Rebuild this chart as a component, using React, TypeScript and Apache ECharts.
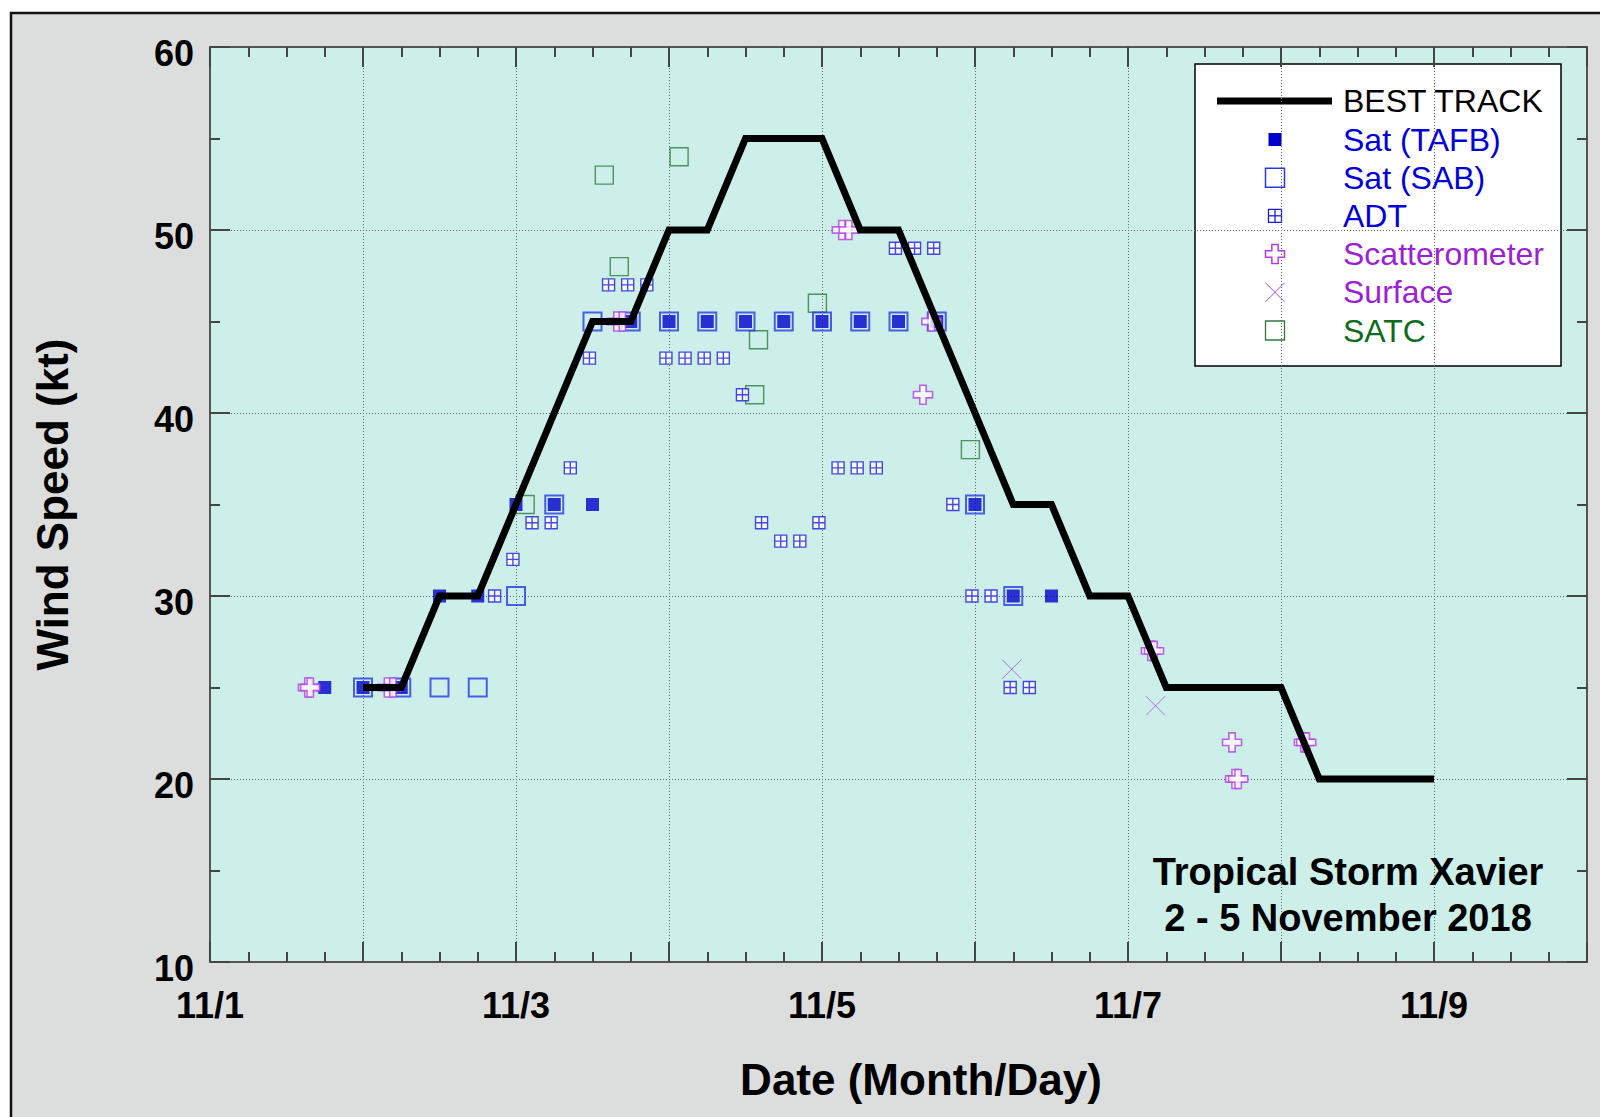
import React, { useEffect, useRef } from "react";
import * as echarts from "echarts";

// ---------------- data ----------------
const seriesNames = ["BEST TRACK", "Sat (TAFB)", "Sat (SAB)", "ADT", "Scatterometer", "Surface", "SATC"];
// x tick labels at each day (day offset from 11/1 00Z)
const xTickLabels = ["11/1", "", "11/3", "", "11/5", "", "11/7", "", "11/9", ""];

// times are day offsets from 1 Nov 00 UTC, winds in kt
const bestTrackDay = [1.0, 1.25, 1.5, 1.75, 2.0, 2.25, 2.5, 2.75, 3.0, 3.25, 3.5, 3.75, 4.0, 4.25, 4.5, 4.75, 5.0, 5.25, 5.5, 5.75, 6.0, 6.25, 6.5, 6.75, 7.0, 7.25, 7.5, 7.75, 8.0];
const bestTrackKt = [25, 25, 30, 30, 35, 40, 45, 45, 50, 50, 55, 55, 55, 50, 50, 45, 40, 35, 35, 30, 30, 25, 25, 25, 25, 20, 20, 20, 20];

const tafbDay = [0.75, 1.0, 1.25, 1.5, 1.75, 2.0, 2.25, 2.5, 2.75, 3.0, 3.25, 3.5, 3.75, 4.0, 4.25, 4.5, 4.75, 5.0, 5.25, 5.5];
const tafbKt = [25, 25, 25, 30, 30, 35, 35, 35, 45, 45, 45, 45, 45, 45, 45, 45, 45, 35, 30, 30];

const sabDay = [1.0, 1.25, 1.5, 1.75, 2.0, 2.25, 2.5, 2.75, 3.0, 3.25, 3.5, 3.75, 4.0, 4.25, 4.5, 4.75, 5.0, 5.25];
const sabKt = [25, 25, 25, 25, 30, 35, 45, 45, 45, 45, 45, 45, 45, 45, 45, 45, 35, 30];

const adtDay = [1.86, 1.98, 2.105, 2.23, 2.355, 2.48, 2.605, 2.73, 2.855, 2.98, 3.105, 3.23, 3.355, 3.48, 3.605, 3.73, 3.855, 3.98, 4.105, 4.23, 4.355, 4.48, 4.605, 4.73, 4.855, 4.98, 5.105, 5.23, 5.355];
const adtKt = [30, 32, 34, 34, 37, 43, 47, 47, 47, 43, 43, 43, 43, 41, 34, 33, 33, 34, 37, 37, 37, 49, 49, 49, 35, 30, 30, 25, 25];

const scatDay = [0.64, 0.655, 1.16, 1.195, 2.66, 2.695, 4.13, 4.175, 4.66, 4.715, 6.15, 6.17, 6.68, 6.7, 6.72, 7.15, 7.165];
const scatKt = [25, 25, 25, 25, 45, 45, 50, 50, 41, 45, 27, 27, 22, 20, 20, 22, 22];

const surfDay = [5.24, 6.18];
const surfKt = [26, 24];

const satcDay = [2.06, 2.577, 2.675, 3.066, 3.56, 3.585, 3.97, 4.97];
const satcKt = [35, 53, 48, 54, 41, 44, 46, 38];

const titleLines = ["Tropical Storm Xavier", "2 - 5 November 2018"];

// ---------------- styles ----------------
const FONT = '"Liberation Sans", Arial, Helvetica, sans-serif';
const C_TAFB = "#0000CC";
const C_SAB = "#2838E6";
const C_ADT = "#1C1CDC";
const C_SCAT = "#B43CE6";
const C_SURF = "#A848E0";
const C_SATC = "#2E7A3C";
const C_BLUE_T = "#0000DD";
const C_PURP_T = "#9C1FD6";
const C_GREEN_T = "#0F6B1E";
const legendTextColors = ["#000000", C_BLUE_T, C_BLUE_T, C_BLUE_T, C_PURP_T, C_PURP_T, C_GREEN_T];

const ADT_PATH = "path://M0,0H10V10H0ZM5,0V10M0,5H10";
const CROSS_PATH = "path://M10,0H20V10H30V20H20V30H10V20H0V10H10Z";
const X_PATH = "path://M0,0L10,10M10,0L0,10";

const zip = (xs: number[], ys: number[]) => xs.map((x, i) => [x, ys[i]]);

function crossPoints(cx: number, cy: number, s: number) {
  const a = s / 6;
  const h = s / 2;
  return [
    [cx - a, cy - h], [cx + a, cy - h], [cx + a, cy - a], [cx + h, cy - a],
    [cx + h, cy + a], [cx + a, cy + a], [cx + a, cy + h], [cx - a, cy + h],
    [cx - a, cy + a], [cx - h, cy + a], [cx - h, cy - a], [cx - a, cy - a],
  ];
}

function buildLegend() {
  const rows = [101, 139.5, 177.7, 215.8, 254, 292.3, 330.5];
  const cx = 1275;
  const children: any[] = [
    { type: "rect", shape: { x: 1195, y: 64, width: 366, height: 302 }, style: { fill: "#ffffff", stroke: "#000", lineWidth: 1.5 } },
    { type: "line", shape: { x1: 1217, y1: rows[0], x2: 1332, y2: rows[0] }, style: { stroke: "#000", lineWidth: 7 } },
    { type: "rect", shape: { x: cx - 6.5, y: rows[1] - 6.5, width: 13, height: 13 }, style: { fill: C_TAFB } },
    { type: "rect", shape: { x: cx - 9.5, y: rows[2] - 9.5, width: 19, height: 19 }, style: { fill: "none", stroke: C_SAB, lineWidth: 1.5 } },
    { type: "rect", shape: { x: cx - 6.5, y: rows[3] - 6.5, width: 13, height: 13 }, style: { fill: "#fff", stroke: C_ADT, lineWidth: 1.3 } },
    { type: "line", shape: { x1: cx, y1: rows[3] - 6.5, x2: cx, y2: rows[3] + 6.5 }, style: { stroke: C_ADT, lineWidth: 1.3 } },
    { type: "line", shape: { x1: cx - 6.5, y1: rows[3], x2: cx + 6.5, y2: rows[3] }, style: { stroke: C_ADT, lineWidth: 1.3 } },
    { type: "polygon", shape: { points: crossPoints(cx, rows[4], 19) }, style: { fill: "#fff", stroke: C_SCAT, lineWidth: 1.5 } },
    { type: "line", shape: { x1: cx - 9.5, y1: rows[5] - 9.5, x2: cx + 9.5, y2: rows[5] + 9.5 }, style: { stroke: C_SURF, lineWidth: 1 } },
    { type: "line", shape: { x1: cx + 9.5, y1: rows[5] - 9.5, x2: cx - 9.5, y2: rows[5] + 9.5 }, style: { stroke: C_SURF, lineWidth: 1 } },
    { type: "rect", shape: { x: cx - 9.5, y: rows[6] - 9.5, width: 19, height: 19 }, style: { fill: "none", stroke: C_SATC, lineWidth: 1.3 } },
  ];
  seriesNames.forEach((name, i) => {
    children.push({
      type: "text",
      x: 1343,
      y: rows[i],
      style: {
        text: name,
        fill: legendTextColors[i],
        fontSize: 32,
        fontFamily: FONT,
        verticalAlign: "middle",
        align: "left",
      },
    });
  });
  return { type: "group", z: 10, children };
}

export default function App() {
  const ref = useRef<HTMLDivElement>(null);

  useEffect(() => {
    document.body.style.margin = "0";
    if (!ref.current) return;
    const chart = echarts.init(ref.current, undefined, { renderer: "svg" });

    const axisLineStyle = { color: "#555", width: 2 };
    const tickStyle = { color: "#444", width: 2 };

    const scatterBase = { type: "scatter" as const, xAxisIndex: 0, yAxisIndex: 0, silent: true };

    const option: any = {
      animation: false,
      backgroundColor: "transparent",
      grid: {
        left: 210,
        top: 47,
        right: 13,
        bottom: 155,
        show: true,
        backgroundColor: "#CCEFEA",
        borderWidth: 0,
      },
      xAxis: [
        {
          type: "value",
          min: 0,
          max: 9,
          interval: 1,
          position: "bottom",
          axisLine: { show: true, onZero: false, lineStyle: axisLineStyle },
          axisTick: { show: true, inside: true, length: 20, lineStyle: tickStyle },
          minorTick: { show: true, splitNumber: 4, length: 10, lineStyle: tickStyle },
          splitLine: { show: true, lineStyle: { color: "#666", width: 1, type: [1, 2] } },
          axisLabel: {
            formatter: (v: number) => xTickLabels[Math.round(v)] ?? "",
            fontSize: 36,
            fontWeight: "bold",
            fontFamily: FONT,
            color: "#000",
            margin: 25,
            lineHeight: 36,
          },
          name: "Date (Month/Day)",
          nameLocation: "middle",
          nameGap: 95,
          nameTextStyle: { fontSize: 44, fontWeight: "bold", fontFamily: FONT, color: "#000", padding: [0, 0, 0, 45] },
        },
        {
          type: "value",
          min: 0,
          max: 9,
          interval: 1,
          position: "top",
          axisLine: { show: true, onZero: false, lineStyle: axisLineStyle },
          axisTick: { show: true, inside: true, length: 20, lineStyle: tickStyle },
          minorTick: { show: true, splitNumber: 4, length: 10, lineStyle: tickStyle },
          splitLine: { show: false },
          axisLabel: { show: false },
        },
      ],
      yAxis: [
        {
          type: "value",
          min: 10,
          max: 60,
          interval: 10,
          position: "left",
          axisLine: { show: true, onZero: false, lineStyle: axisLineStyle },
          axisTick: { show: true, inside: true, length: 20, lineStyle: tickStyle },
          minorTick: { show: true, splitNumber: 2, length: 10, lineStyle: tickStyle },
          splitLine: { show: true, lineStyle: { color: "#666", width: 1, type: [1, 2] } },
          axisLabel: {
            fontSize: 36,
            fontWeight: "bold",
            fontFamily: FONT,
            color: "#000",
            margin: 16,
            verticalAlign: "top",
            lineHeight: 13,
          },
          name: "Wind Speed (kt)",
          nameLocation: "middle",
          nameGap: 136,
          nameTextStyle: { fontSize: 44, fontWeight: "bold", fontFamily: FONT, color: "#000" },
        },
        {
          type: "value",
          min: 10,
          max: 60,
          interval: 10,
          position: "right",
          axisLine: { show: true, onZero: false, lineStyle: axisLineStyle },
          axisTick: { show: true, inside: true, length: 20, lineStyle: tickStyle },
          minorTick: { show: true, splitNumber: 2, length: 10, lineStyle: tickStyle },
          splitLine: { show: false },
          axisLabel: { show: false },
        },
      ],
      series: [
        {
          name: seriesNames[0],
          type: "line",
          xAxisIndex: 0,
          yAxisIndex: 0,
          data: zip(bestTrackDay, bestTrackKt),
          showSymbol: false,
          symbol: "none",
          lineStyle: { color: "#000", width: 7, join: "miter" },
          silent: true,
        },
        {
          ...scatterBase,
          name: seriesNames[6],
          data: zip(satcDay, satcKt),
          symbol: "rect",
          symbolSize: 18,
          itemStyle: { color: "rgba(0,0,0,0)", borderColor: C_SATC, borderWidth: 1.4 },
        },
        {
          ...scatterBase,
          name: seriesNames[2],
          data: zip(sabDay, sabKt),
          symbol: "rect",
          symbolSize: 18,
          itemStyle: { color: "rgba(0,0,0,0)", borderColor: C_SAB, borderWidth: 2 },
        },
        {
          ...scatterBase,
          name: seriesNames[1],
          data: zip(tafbDay, tafbKt),
          symbol: "rect",
          symbolSize: 13,
          itemStyle: { color: C_TAFB },
        },
        {
          ...scatterBase,
          name: seriesNames[3],
          data: zip(adtDay, adtKt),
          symbol: ADT_PATH,
          symbolSize: 12,
          itemStyle: { color: "#ffffff", borderColor: C_ADT, borderWidth: 1.4 },
        },
        {
          ...scatterBase,
          name: seriesNames[4],
          data: zip(scatDay, scatKt),
          symbol: CROSS_PATH,
          symbolSize: 19,
          itemStyle: { color: "#ffffff", borderColor: C_SCAT, borderWidth: 1.6 },
        },
        {
          ...scatterBase,
          name: seriesNames[5],
          data: zip(surfDay, surfKt),
          symbol: X_PATH,
          symbolSize: 19,
          itemStyle: { color: "rgba(0,0,0,0)", borderColor: C_SURF, borderWidth: 1 },
        },
      ],
      graphic: [
        {
          type: "rect",
          z: -10,
          silent: true,
          shape: { x: 11, y: 13, width: 1620, height: 1200 },
          style: { fill: "#DCDEDD", stroke: "#111", lineWidth: 2.5 },
        },
        buildLegend(),
        {
          type: "text",
          z: 10,
          x: 1348,
          y: 872,
          style: { text: titleLines[0], fill: "#000", fontSize: 38, fontWeight: "bold", fontFamily: FONT, align: "center", verticalAlign: "middle" },
        },
        {
          type: "text",
          z: 10,
          x: 1348,
          y: 918,
          style: { text: titleLines[1], fill: "#000", fontSize: 38, fontWeight: "bold", fontFamily: FONT, align: "center", verticalAlign: "middle" },
        },
      ],
    };

    chart.setOption(option);
    return () => {
      chart.dispose();
    };
  }, []);

  return (
    <div
      ref={ref}
      style={{ position: "absolute", left: 0, top: 0, width: 1600, height: 1117, background: "#ffffff" }}
    />
  );
}
